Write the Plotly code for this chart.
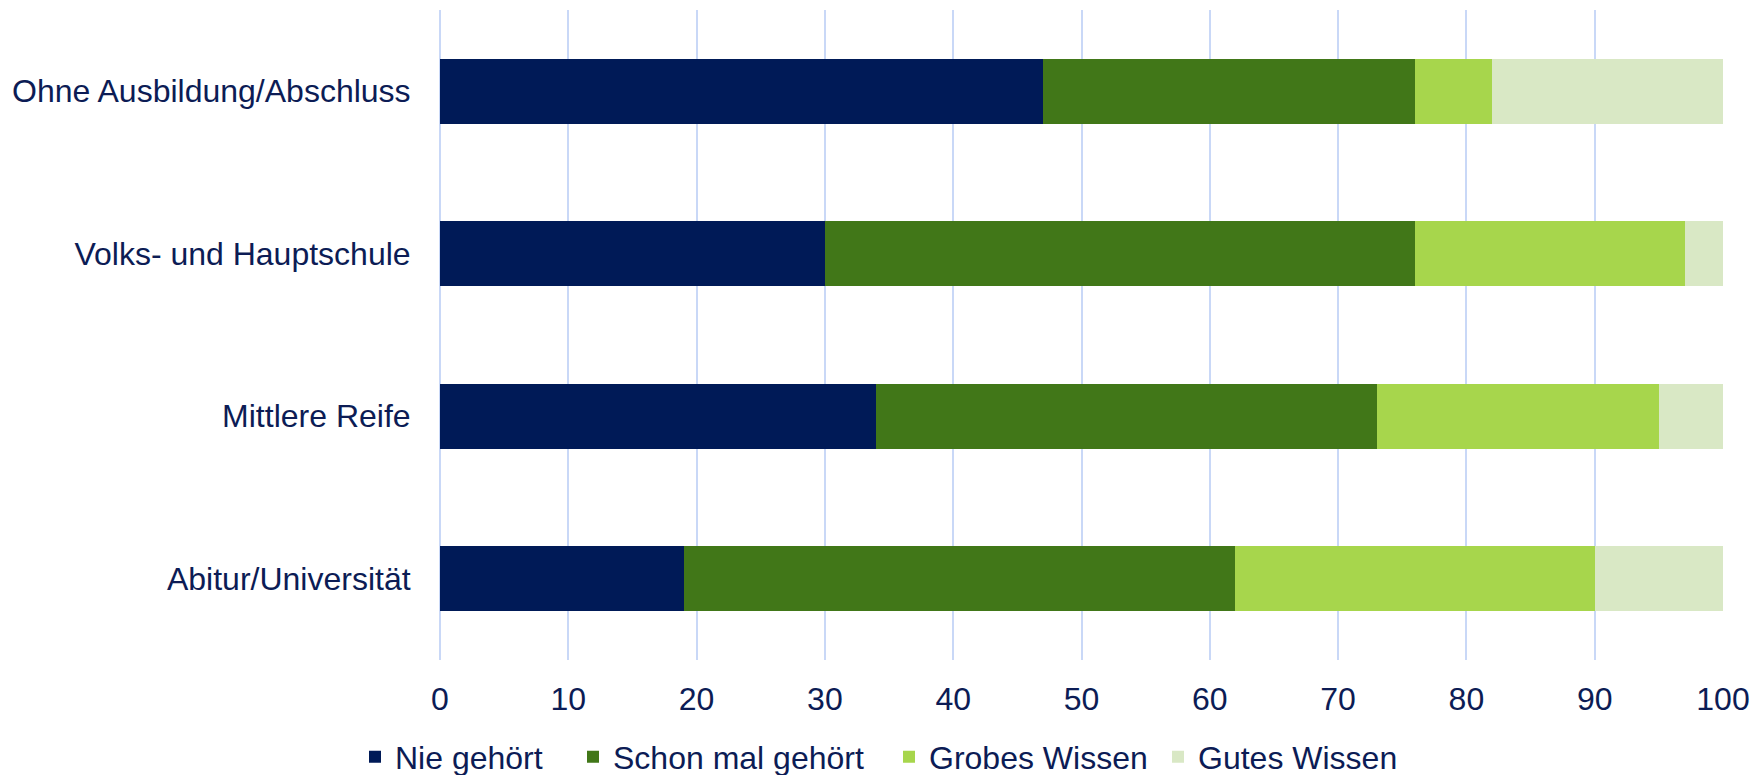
import plotly.graph_objects as go

categories = ["Ohne Ausbildung/Abschluss", "Volks- und Hauptschule", "Mittlere Reife", "Abitur/Universität"]
series_names = ["Nie gehört", "Schon mal gehört", "Grobes Wissen", "Gutes Wissen"]
nie_gehoert = [47, 30, 34, 19]
schon_mal_gehoert = [29, 46, 39, 43]
grobes_wissen = [6, 21, 22, 28]
gutes_wissen = [18, 3, 5, 10]
x_ticks = [0, 10, 20, 30, 40, 50, 60, 70, 80, 90, 100]

values = [nie_gehoert, schon_mal_gehoert, grobes_wissen, gutes_wissen]
colors = ["#001a57", "#417718", "#a7d64c", "#d9e8c5"]
text_color = "#0c1c55"

W, H = 1754, 775
legend_ids = ["legend", "legend2", "legend3", "legend4"]
legend_left_px = [355, 573, 889, 1158]

fig = go.Figure()
for name, vals, col, lid in zip(series_names, values, colors, legend_ids):
    fig.add_trace(go.Bar(
        y=categories, x=vals, name=name, orientation="h", legend=lid,
        showlegend=True, hoverinfo="skip",
        marker=dict(color=col, line=dict(width=0)),
    ))

layout_legends = {}
for lid, px in zip(legend_ids, legend_left_px):
    layout_legends[lid] = dict(
        orientation="h", xref="container", yref="container",
        x=px / W, xanchor="left", y=1 - 757 / H, yanchor="middle",
        font=dict(size=32, color=text_color), itemwidth=30,
        bgcolor="rgba(0,0,0,0)",
    )

fig.update_layout(
    showlegend=True,
    barmode="stack",
    bargap=0.6,
    width=W, height=H,
    margin=dict(l=440, r=31, t=10, b=115, autoexpand=False),
    plot_bgcolor="white", paper_bgcolor="white",
    font=dict(family="Liberation Sans, Arial, sans-serif", color=text_color, size=32),
    xaxis=dict(
        range=[0, 100], tickvals=x_ticks, showgrid=True, gridcolor="#c9d8f7", gridwidth=2,
        zeroline=True, zerolinecolor="#c9d8f7", zerolinewidth=2,
        ticks="outside", ticklen=11, tickcolor="rgba(0,0,0,0)",
        tickfont=dict(size=32, color=text_color), showline=False,
        ticklabeloverflow="allow", automargin=False,
    ),
    yaxis=dict(
        categoryorder="array", categoryarray=categories, autorange="reversed",
        ticks="outside", ticklen=22, tickcolor="rgba(0,0,0,0)",
        tickfont=dict(size=32, color=text_color), showgrid=False, showline=False,
        automargin=False,
    ),
    **layout_legends,
)

fig.write_html(
    "out.html",
    config={"displayModeBar": False},
    post_script="document.body.style.margin='0';document.body.style.overflow='hidden';",
)
